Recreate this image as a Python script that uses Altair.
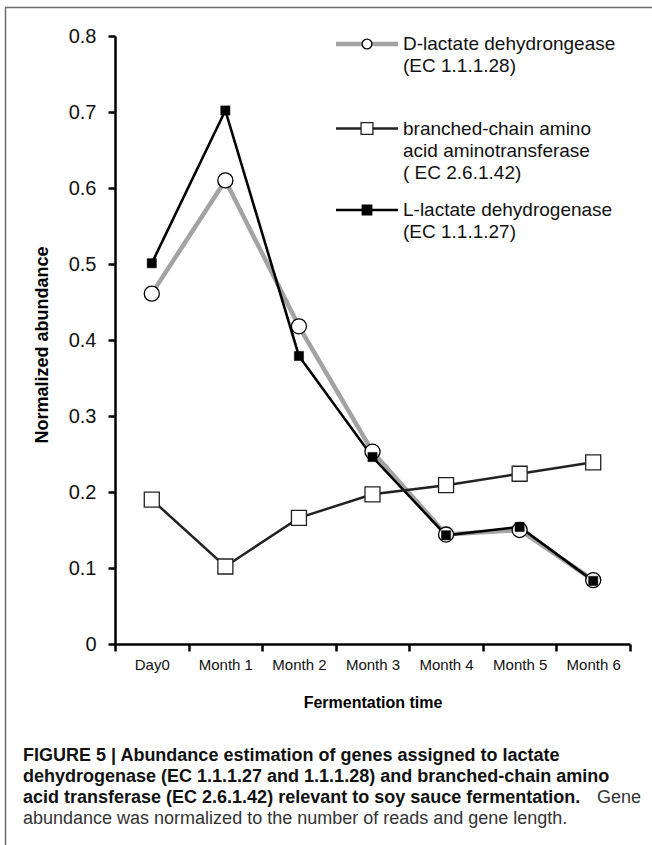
import altair as alt
import pandas as pd

# ---- data ----
categories = ["Day0", "Month 1", "Month 2", "Month 3", "Month 4", "Month 5", "Month 6"]
d_lactate = [0.461, 0.610, 0.418, 0.253, 0.144, 0.150, 0.084]
branched = [0.190, 0.102, 0.166, 0.197, 0.209, 0.224, 0.239]
l_lactate = [0.501, 0.702, 0.379, 0.246, 0.143, 0.154, 0.083]
y_ticks = [0, 0.1, 0.2, 0.3, 0.4, 0.5, 0.6, 0.7, 0.8]

series_names = ["D-lactate", "branched", "L-lactate"]
rows = []
for name, vals in zip(series_names, [d_lactate, branched, l_lactate]):
    for c, v in zip(categories, vals):
        rows.append({"time": c, "value": v, "series": name})
df = pd.DataFrame(rows)
one = pd.DataFrame({"k": [0]})

FONT = "Liberation Sans"
W, H = 515, 608

x_enc = alt.X(
    "time:N",
    sort=categories,
    scale=alt.Scale(type="band", paddingInner=0, paddingOuter=0),
    axis=alt.Axis(
        title=None, labelAngle=0, labelFontSize=15, labelFont=FONT, labelColor="#111",
        tickBand="extent", tickSize=7, tickWidth=2.5, tickColor="#000",
        domainColor="#000", domainWidth=2.5, labelPadding=6, grid=False,
    ),
)
y_enc = alt.Y(
    "value:Q",
    scale=alt.Scale(domain=[0, 0.8], nice=False, zero=True),
    axis=alt.Axis(
        title=None, values=y_ticks, labelFontSize=20, labelFont=FONT, labelColor="#111",
        labelExpr="datum.value == 0 ? '0' : format(datum.value, '.1f')",
        tickSize=7, tickWidth=2.5, tickColor="#000", domainColor="#000", domainWidth=2.5,
        labelPadding=12, grid=False,
    ),
)

base = alt.Chart(df).encode(x=x_enc, y=y_enc)

line_d = base.transform_filter("datum.series == 'D-lactate'").mark_line(color="#a3a3a3", strokeWidth=4.5)
line_l = base.transform_filter("datum.series == 'L-lactate'").mark_line(color="#000", strokeWidth=2.6)
line_b = base.transform_filter("datum.series == 'branched'").mark_line(color="#222", strokeWidth=2.5)
pt_d = base.transform_filter("datum.series == 'D-lactate'").mark_point(
    shape="circle", filled=True, fill="white", stroke="#000", strokeWidth=1.3, size=227, opacity=1)
pt_b = base.transform_filter("datum.series == 'branched'").mark_point(
    shape="square", filled=True, fill="white", stroke="#222", strokeWidth=1.3, size=225, opacity=1)
pt_l = base.transform_filter("datum.series == 'L-lactate'").mark_point(
    shape="square", filled=True, fill="#000", stroke="#000", strokeWidth=0.5, size=85, opacity=1)

# ---- legend (drawn manually) ----
def lg_line(y, color, width):
    return alt.Chart(one).mark_rule(color=color, strokeWidth=width).encode(
        x=alt.value(221), x2=alt.value(283), y=alt.value(y))

def lg_point(y, shape, fill, stroke, size):
    return alt.Chart(one).mark_point(shape=shape, filled=True, fill=fill, stroke=stroke,
                                     strokeWidth=1.3, size=size, opacity=1).encode(
        x=alt.value(252), y=alt.value(y))

def txt(lines, x, y, size, weight="normal", align="left", baseline="middle", color="#111", angle=0, lh=22):
    kw = dict(text=lines, font=FONT, fontSize=size, fontWeight=weight, align=align,
              baseline=baseline, color=color, lineHeight=lh)
    if angle:
        kw["angle"] = angle
    return alt.Chart(one).mark_text(**kw).encode(x=alt.value(x), y=alt.value(y))

legend = [
    lg_line(8, "#a3a3a3", 4.5), lg_point(8, "circle", "white", "#000", 95),
    txt(["D-lactate dehydrongease", "(EC 1.1.1.28)"], 288, 8, 19),
    lg_line(92.5, "#222", 2.5), lg_point(92.5, "square", "white", "#222", 140),
    txt(["branched-chain amino", "acid aminotransferase", "( EC 2.6.1.42)"], 288, 92.5, 19),
    lg_line(174, "#000", 2.6), lg_point(174, "square", "#000", "#000", 90),
    txt(["L-lactate dehydrogenase", "(EC 1.1.1.27)"], 288, 174, 19),
]

# ---- axis titles ----
titles = [
    txt("Normalized abundance", -72.5, 309, 18, weight="bold", align="center", angle=270, color="#000"),
    txt("Fermentation time", 258, 667, 16, weight="bold", align="center", color="#000"),
]

# ---- frame ----
frame = [
    alt.Chart(one).mark_rule(color="#6e6e6e", strokeWidth=1.5).encode(
        x=alt.value(-110), x2=alt.value(545), y=alt.value(-28.5)),
    alt.Chart(one).mark_rule(color="#6e6e6e", strokeWidth=1.5).encode(
        x=alt.value(-109.5), y=alt.value(-28.5), y2=alt.value(815)),
]

# ---- caption ----
cap_x = -92
caption = [
    txt("FIGURE 5 | Abundance estimation of genes assigned to lactate", cap_x, 725, 18,
        weight="bold", baseline="alphabetic", color="#111"),
    txt("dehydrogenase (EC 1.1.1.27 and 1.1.1.28) and branched-chain amino", cap_x, 746, 18,
        weight="bold", baseline="alphabetic", color="#111"),
    txt("acid transferase (EC 2.6.1.42) relevant to soy sauce fermentation.", cap_x, 767, 18,
        weight="bold", baseline="alphabetic", color="#111"),
    txt("Gene", 526, 767, 18, align="right", baseline="alphabetic", color="#333"),
    txt("abundance was normalized to the number of reads and gene length.", cap_x, 788, 18,
        baseline="alphabetic", color="#333"),
]

chart = alt.layer(
    line_d, line_l, line_b, pt_d, pt_b, pt_l, *legend, *titles, *frame, *caption
).properties(
    width=W, height=H,
    autosize=alt.AutoSizeParams(type="none"),
    padding={"left": 115, "top": 36, "right": 22, "bottom": 201},
).configure_view(stroke=None)

chart.save("out.html", embed_options={"renderer": "svg", "actions": False})
